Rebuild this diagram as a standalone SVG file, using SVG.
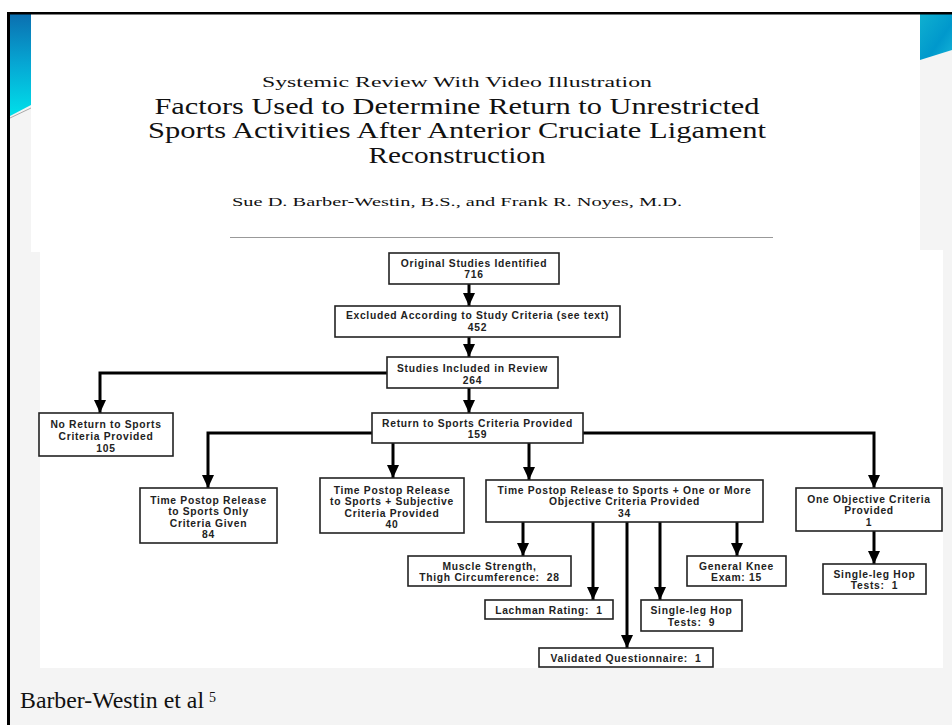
<svg xmlns="http://www.w3.org/2000/svg" width="952" height="725" viewBox="0 0 952 725">
<defs>
<linearGradient id="lblue" x1="0" y1="0" x2="0" y2="1">
<stop offset="0" stop-color="#0b6fb0"/>
<stop offset="0.5" stop-color="#06a8d4"/>
<stop offset="1" stop-color="#00e0ea"/>
</linearGradient>
<linearGradient id="rblue" x1="0" y1="0" x2="1" y2="1">
<stop offset="0" stop-color="#0fb0d0"/>
<stop offset="0.6" stop-color="#0098cc"/>
<stop offset="1" stop-color="#14b4d8"/>
</linearGradient>
<marker id="ah" markerUnits="userSpaceOnUse" markerWidth="14" markerHeight="12" viewBox="0 0 14 12" refX="13" refY="6" orient="auto">
<path d="M0,0 L13,6 L0,12 Z" fill="#000"/>
</marker>
<style>
.box{fill:#fff;stroke:#222;stroke-width:1.6}
.bt{font-family:"Liberation Sans",Arial,sans-serif;font-weight:bold;font-size:10.3px;letter-spacing:0.7px;fill:#222;text-anchor:middle}
.ar{fill:none;stroke:#000;stroke-width:3;marker-end:url(#ah)}
.ser{font-family:"Liberation Serif","Times New Roman",serif;fill:#111;text-anchor:middle}
</style>
</defs>
<!-- background -->
<rect x="0" y="0" width="952" height="725" fill="#fff"/>
<rect x="7" y="12" width="945" height="713" fill="#f4f4f4"/>
<!-- title image area -->
<rect x="31" y="14" width="889" height="238" fill="#fff"/>
<!-- flowchart image area -->
<rect x="40" y="250" width="903" height="418" fill="#fff"/>
<!-- decorations -->
<path d="M10,14 L31,14 L31,105 L10,116 Z" fill="url(#lblue)"/>
<path d="M10,118 L31,108" stroke="#aaa" stroke-width="1"/>
<path d="M920,14 L952,14 L952,50 L920,60 Z" fill="url(#rblue)"/>
<rect x="7" y="12" width="945" height="2.5" fill="#000"/>
<rect x="7" y="12" width="3" height="713" fill="#000"/>

<!-- title -->
<g id="title">
<text class="ser" x="457" y="87" font-size="15.5" textLength="390" lengthAdjust="spacingAndGlyphs">Systemic Review With Video Illustration</text>
<text class="ser" x="457" y="114" font-size="23" textLength="605" lengthAdjust="spacingAndGlyphs">Factors Used to Determine Return to Unrestricted</text>
<text class="ser" x="457" y="138" font-size="23" textLength="618" lengthAdjust="spacingAndGlyphs">Sports Activities After Anterior Cruciate Ligament</text>
<text class="ser" x="457" y="163" font-size="23" textLength="177" lengthAdjust="spacingAndGlyphs">Reconstruction</text>
<text class="ser" x="457" y="206" font-size="13.5" textLength="450" lengthAdjust="spacingAndGlyphs">Sue D. Barber-Westin, B.S., and Frank R. Noyes, M.D.</text>
<line x1="230" y1="237.5" x2="773" y2="237.5" stroke="#999" stroke-width="1.2"/>
</g>

<!-- connectors -->
<g id="connectors">
<path class="ar" d="M469,284 V306"/>
<path class="ar" d="M469,337 V357"/>
<path class="ar" d="M387,373 H100 V413"/>
<path class="ar" d="M469,388 V413"/>
<path class="ar" d="M372,433 H208 V488"/>
<path class="ar" d="M393,443 V478"/>
<path class="ar" d="M529,443 V480"/>
<path class="ar" d="M583,433 H874 V488"/>
<path class="ar" d="M874,531 V564"/>
<path class="ar" d="M523,522 V556"/>
<path class="ar" d="M593,522 V600"/>
<path class="ar" d="M627,522 V648"/>
<path class="ar" d="M660,522 V600"/>
<path class="ar" d="M737,522 V556"/>
</g>

<!-- nodes -->
<g id="n-original">
<rect class="box" x="389" y="253" width="170" height="31"/>
<text class="bt" x="474" y="266.5">Original Studies Identified</text>
<text class="bt" x="474" y="278">716</text>
</g>
<g id="n-excluded">
<rect class="box" x="335" y="306" width="285" height="31"/>
<text class="bt" x="477.5" y="319">Excluded According to Study Criteria (see text)</text>
<text class="bt" x="477.5" y="331">452</text>
</g>
<g id="n-included">
<rect class="box" x="387" y="357" width="171" height="31"/>
<text class="bt" x="472.5" y="371.5">Studies Included in Review</text>
<text class="bt" x="472.5" y="383.5">264</text>
</g>
<g id="n-noreturn">
<rect class="box" x="39" y="413" width="134" height="43"/>
<text class="bt" x="106" y="427.5">No Return to Sports</text>
<text class="bt" x="106" y="439.5">Criteria Provided</text>
<text class="bt" x="106" y="451.5">105</text>
</g>
<g id="n-return">
<rect class="box" x="372" y="413" width="211" height="30"/>
<text class="bt" x="477.5" y="426.5">Return to Sports Criteria Provided</text>
<text class="bt" x="477.5" y="438">159</text>
</g>
<g id="n-timeonly">
<rect class="box" x="140" y="488" width="137" height="55"/>
<text class="bt" x="208.5" y="503.5">Time Postop Release</text>
<text class="bt" x="208.5" y="515">to Sports Only</text>
<text class="bt" x="208.5" y="526.5">Criteria Given</text>
<text class="bt" x="208.5" y="538">84</text>
</g>
<g id="n-subjective">
<rect class="box" x="320" y="478" width="144" height="55"/>
<text class="bt" x="392" y="493.5">Time Postop Release</text>
<text class="bt" x="392" y="505">to Sports + Subjective</text>
<text class="bt" x="392" y="516.5">Criteria Provided</text>
<text class="bt" x="392" y="528">40</text>
</g>
<g id="n-objective">
<rect class="box" x="486" y="480" width="277" height="42"/>
<text class="bt" x="624.5" y="493.5">Time Postop Release to Sports + One or More</text>
<text class="bt" x="624.5" y="505">Objective Criteria Provided</text>
<text class="bt" x="624.5" y="516.5">34</text>
</g>
<g id="n-oneobj">
<rect class="box" x="796" y="488" width="146" height="43"/>
<text class="bt" x="869" y="502.5">One Objective Criteria</text>
<text class="bt" x="869" y="514">Provided</text>
<text class="bt" x="869" y="525.5">1</text>
</g>
<g id="n-hop1">
<rect class="box" x="823" y="564" width="103" height="30"/>
<text class="bt" x="874.5" y="577.5">Single-leg Hop</text>
<text class="bt" x="874.5" y="589" xml:space="preserve">Tests:  1</text>
</g>
<g id="n-muscle">
<rect class="box" x="408" y="556" width="163" height="30"/>
<text class="bt" x="489.5" y="569.5">Muscle Strength,</text>
<text class="bt" x="489.5" y="581" xml:space="preserve">Thigh Circumference:  28</text>
</g>
<g id="n-lachman">
<rect class="box" x="485" y="600" width="128" height="19"/>
<text class="bt" x="549" y="613.5" xml:space="preserve">Lachman Rating:  1</text>
</g>
<g id="n-hop9">
<rect class="box" x="641" y="600" width="101" height="31"/>
<text class="bt" x="691.5" y="614">Single-leg Hop</text>
<text class="bt" x="691.5" y="625.5" xml:space="preserve">Tests:  9</text>
</g>
<g id="n-knee">
<rect class="box" x="687" y="556" width="99" height="30"/>
<text class="bt" x="736.5" y="569.5">General Knee</text>
<text class="bt" x="736.5" y="581" xml:space="preserve">Exam: 15</text>
</g>
<g id="n-questionnaire">
<rect class="box" x="539" y="648" width="174" height="19"/>
<text class="bt" x="626" y="661.5" xml:space="preserve">Validated Questionnaire:  1</text>
</g>

<!-- caption -->
<g id="caption">
<text x="20" y="708" font-family="'Liberation Serif','Times New Roman',serif" font-size="23" fill="#111" textLength="184" lengthAdjust="spacingAndGlyphs">Barber-Westin et al</text>
<text x="209" y="702" font-family="'Liberation Serif','Times New Roman',serif" font-size="14" fill="#111">5</text>
</g>
</svg>
